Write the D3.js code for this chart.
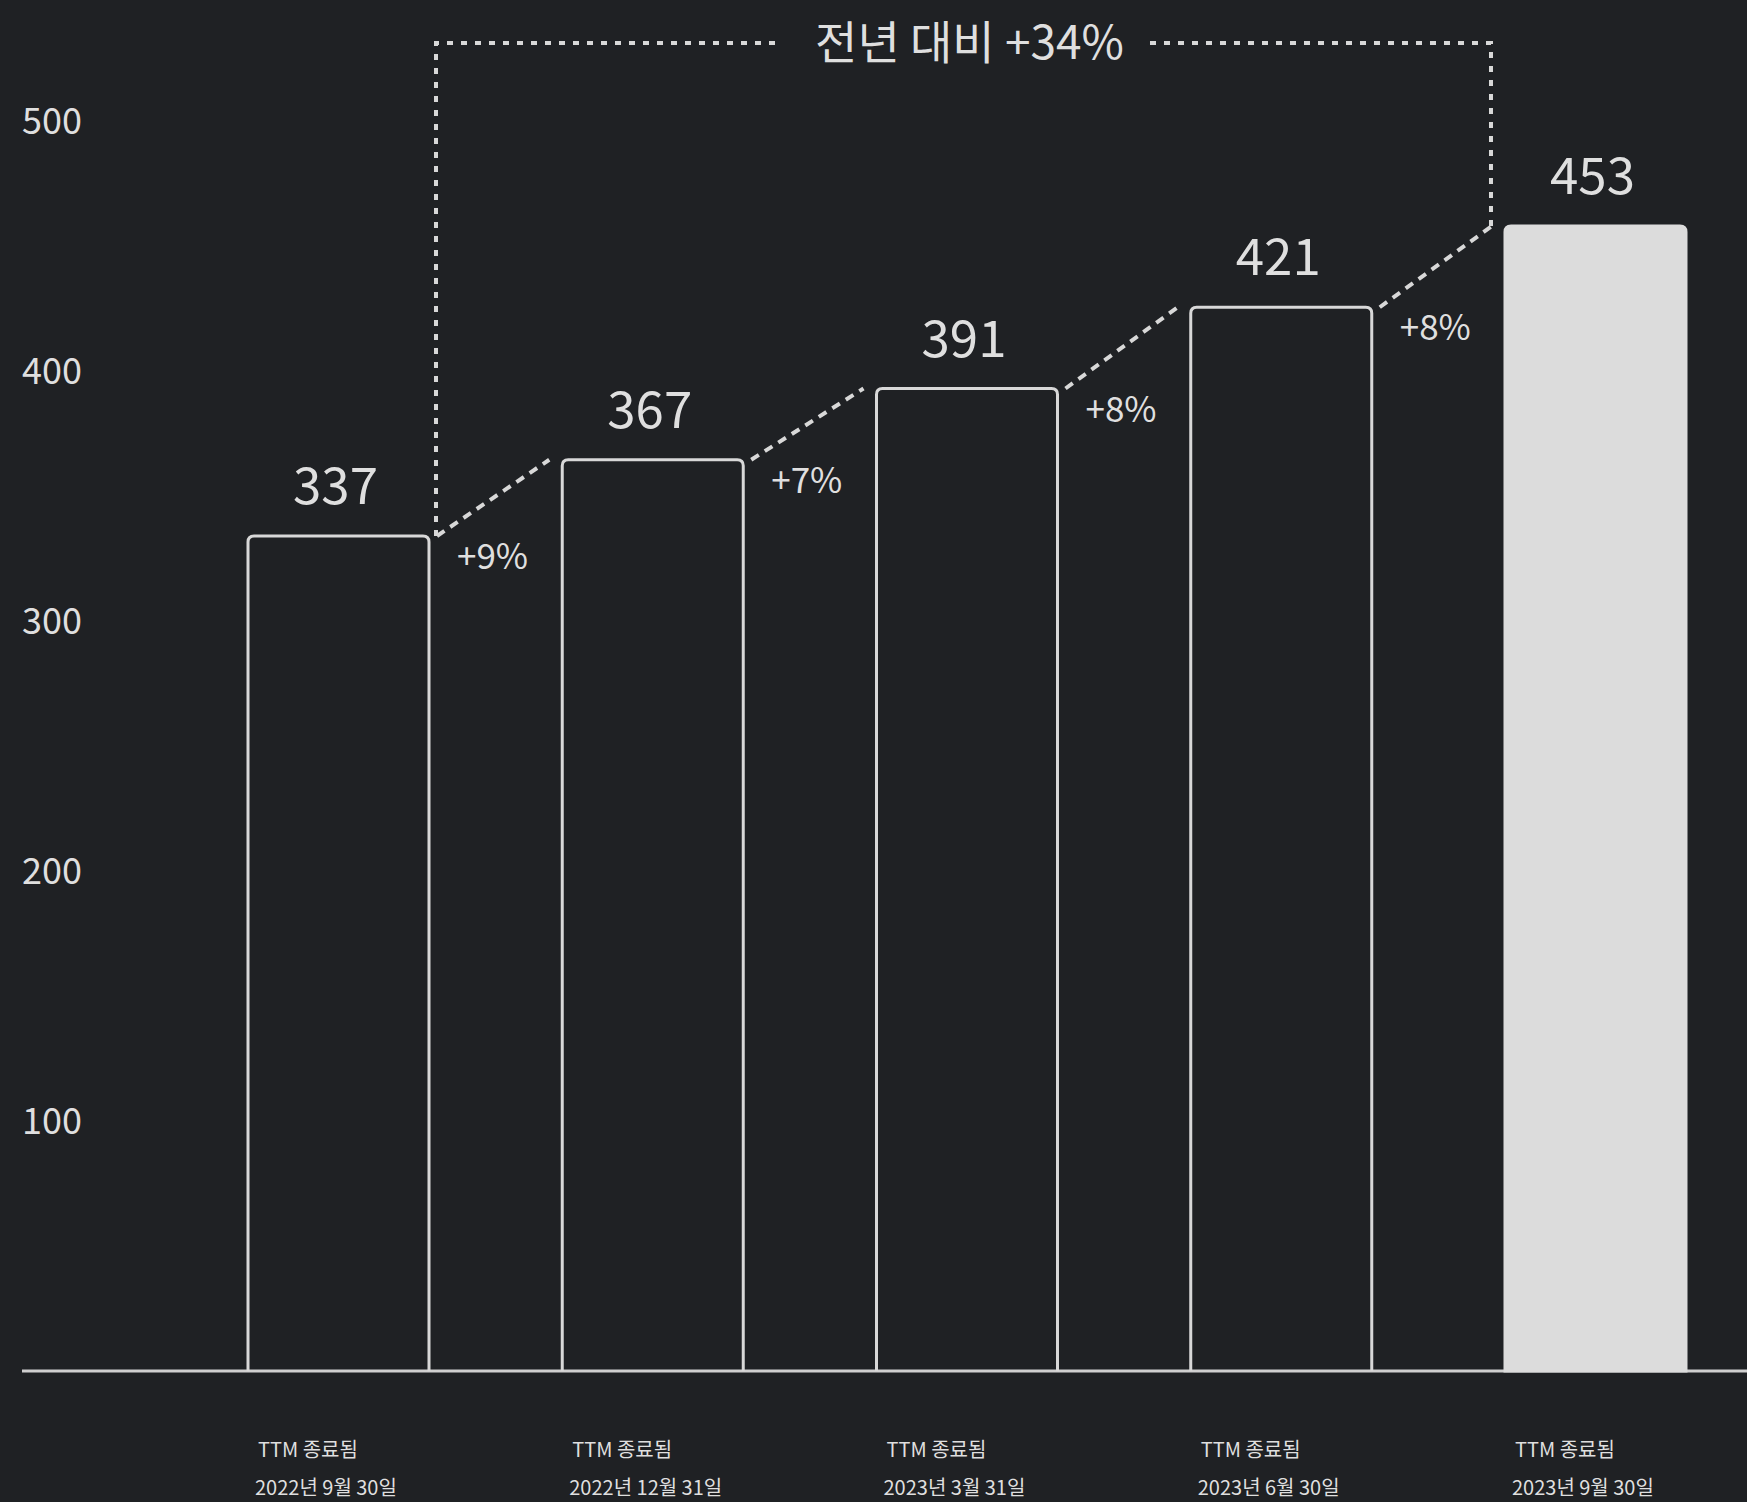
<!DOCTYPE html>
<html>
<head>
<meta charset="utf-8">
<script src="https://cdn.jsdelivr.net/npm/d3@7"></script>
<style>
  html, body { margin: 0; padding: 0; background: #1f2124; }
  svg { display: block; }
  text { font-family: "Noto Sans CJK KR", "Noto Sans", sans-serif; fill: #dfdfdf; }
</style>
</head>
<body>
<div id="chart"></div>
<script>
// ---- data ----
const categories = ["2022년 9월 30일", "2022년 12월 31일", "2023년 3월 31일", "2023년 6월 30일", "2023년 9월 30일"];
const categoryPrefix = "TTM 종료됨";
const barValues = [334, 364.5, 393, 425.5, 458];
const valueLabels = ["337", "367", "391", "421", "453"];
const growthLabels = ["+9%", "+7%", "+8%", "+8%"];
const yTicks = [100, 200, 300, 400, 500];
const bracketLabel = "전년 대비 +34%";

// ---- layout ----
const W = 1747, H = 1502;
const svg = d3.select("#chart").append("svg").attr("width", W).attr("height", H);

const x = d3.scaleBand().domain(categories).range([248, 1686]).paddingInner(0.424).paddingOuter(0);
const y = d3.scaleLinear().domain([0, 500]).range([1371, 121]);
const bw = x.bandwidth();
const lineColor = "#d8d8d8";

// y tick labels
const yAxis = d3.axisLeft(y).tickValues(yTicks).tickSize(0).tickPadding(0);
const gy = svg.append("g").attr("transform", "translate(22,0)").call(yAxis);
gy.select(".domain").remove();
gy.selectAll("text")
  .attr("text-anchor", "start")
  .attr("x", 0)
  .attr("dy", "0.35em")
  .style("font-size", "36px")
  .style("font-family", "\"Noto Sans CJK KR\", sans-serif")
  .attr("fill", "#dcdcdc");

// baseline
svg.append("line")
  .attr("x1", 22).attr("x2", W)
  .attr("y1", y(0)).attr("y2", y(0))
  .attr("stroke", "#cfcfcf").attr("stroke-width", 3);

// bars with rounded top corners
function barPath(d, i) {
  const x0 = x(categories[i]), x1 = x0 + bw, yb = y(0), yt = y(d), r = 6;
  return `M${x0},${yb}V${yt + r}Q${x0},${yt} ${x0 + r},${yt}H${x1 - r}Q${x1},${yt} ${x1},${yt + r}V${yb}`;
}
svg.append("g").selectAll("path")
  .data(barValues)
  .join("path")
  .attr("d", (d, i) => barPath(d, i) + (i === barValues.length - 1 ? "Z" : ""))
  .attr("fill", (d, i) => i === barValues.length - 1 ? "#dcdcdc" : "none")
  .attr("stroke", (d, i) => i === barValues.length - 1 ? "#dcdcdc" : lineColor)
  .attr("stroke-width", 3);

// value labels
svg.append("g").selectAll("text")
  .data(barValues)
  .join("text")
  .attr("x", (d, i) => x(categories[i]) + bw / 2 - 3)
  .attr("y", d => y(d) - 32)
  .attr("text-anchor", "middle")
  .style("font-size", "51px")
  .text((d, i) => valueLabels[i]);

// connectors between bar tops
const conn = svg.append("g");
growthLabels.forEach((lab, i) => {
  const x1 = x(categories[i]) + bw + 8, y1 = y(barValues[i]);
  const x2 = x(categories[i + 1]) - 13, y2 = y(barValues[i + 1]);
  conn.append("line")
    .attr("x1", x1).attr("y1", y1).attr("x2", x2).attr("y2", y2)
    .attr("stroke", lineColor).attr("stroke-width", 4)
    .attr("stroke-dasharray", "9 7");
  conn.append("text")
    .attr("x", x(categories[i]) + bw + 28)
    .attr("y", y(barValues[i]) + 33)
    .style("font-size", "35px")
    .text(lab);
});

// bracket
const topY = 43;
const bx1 = x(categories[0]) + bw + 7;
const bx2 = x(categories[categories.length - 1]) - 14;
const br = svg.append("g");
const title = br.append("text")
  .attr("x", (bx1 + bx2) / 2 + 6)
  .attr("y", topY)
  .attr("dy", "0.35em")
  .attr("text-anchor", "middle")
  .style("font-size", "46px")
  .text(bracketLabel);
const tb = title.node().getBBox();
const dash = "6 8";
br.append("path")
  .attr("d", `M${bx1},${y(barValues[0])}V${topY}H${tb.x - 38}`)
  .attr("fill", "none").attr("stroke", lineColor).attr("stroke-width", 4)
  .attr("stroke-dasharray", dash);
br.append("path")
  .attr("d", `M${bx2},${y(barValues[barValues.length - 1])}V${topY}H${tb.x + tb.width + 24}`)
  .attr("fill", "none").attr("stroke", lineColor).attr("stroke-width", 4)
  .attr("stroke-dasharray", dash);

// x labels (two lines, left-aligned to bar)
const xl = svg.append("g").selectAll("g")
  .data(categories)
  .join("g")
  .attr("transform", d => `translate(${x(d) + 10},0)`);
xl.append("text").attr("y", 1457).style("font-size", "20px").text(categoryPrefix);
xl.append("text").attr("x", -3).attr("y", 1495).style("font-size", "20px").text(d => d);
</script>
</body>
</html>
